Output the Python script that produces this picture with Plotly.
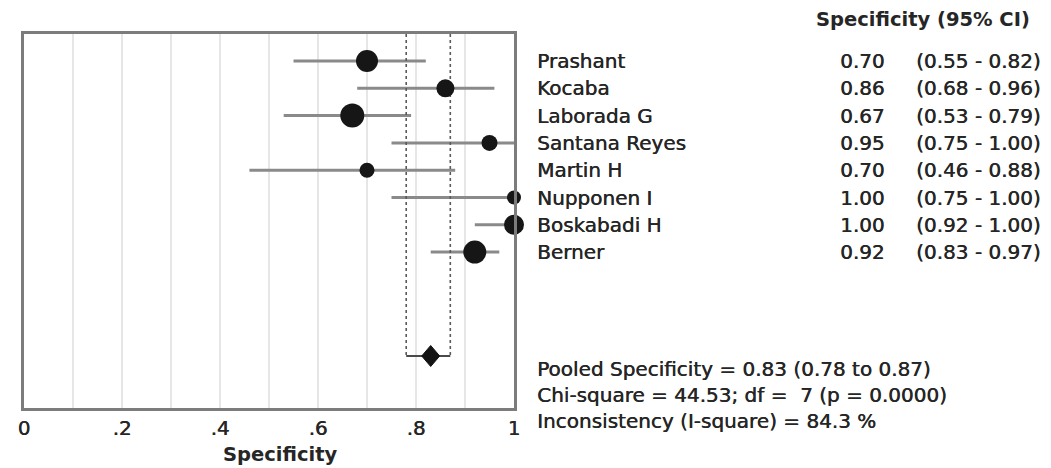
import plotly.graph_objects as go

# ---- data -------------------------------------------------------------
studies = ["Prashant", "Kocaba", "Laborada G", "Santana Reyes",
           "Martin H", "Nupponen I", "Boskabadi H", "Berner"]
specificity = [0.70, 0.86, 0.67, 0.95, 0.70, 1.00, 1.00, 0.92]
ci_low = [0.55, 0.68, 0.53, 0.75, 0.46, 0.75, 0.92, 0.83]
ci_high = [0.82, 0.96, 0.79, 1.00, 0.88, 1.00, 1.00, 0.97]

pooled = 0.83
pooled_low = 0.78
pooled_high = 0.87
chi_square = 44.53
dof = 7
p_value = 0.0000
i_square = 84.3

tick_values = [0, 0.2, 0.4, 0.6, 0.8, 1.0]
tick_labels = ["0", ".2", ".4", ".6", ".8", "1"]

# ---- styling ------------------------------------------------------------
marker_px = [22, 18, 24, 16, 15, 14, 20, 23]   # study weight markers (diameter)
FONT = "DejaVu Sans"
TXT = "#262626"
SHADOW = "0.45px 0 0 #262626"           # slightly heavier strokes
W, H = 1051, 468
L, R, T, B = 24, 514, 34, 408          # plot area in pixels
ROW_PX = 27.3                           # vertical spacing of study rows
FIRST_ROW_PX = 61


def row_of(py):
    return 1 + (py - FIRST_ROW_PX) / ROW_PX


def px_x(px):
    return (px - L) / (R - L)


def px_y(py):
    return (B - py) / (B - T)


rows = list(range(1, len(studies) + 1))
pooled_row = row_of(356)
y_top, y_bottom = row_of(T), row_of(B)

fig = go.Figure()

# confidence interval lines for each study
cx, cy = [], []
for lo, hi, r in zip(ci_low, ci_high, rows):
    cx += [lo, hi, None]
    cy += [r, r, None]
fig.add_trace(go.Scatter(x=cx, y=cy, mode="lines",
                         line=dict(color="#8a8a8a", width=3),
                         cliponaxis=False, hoverinfo="skip"))

# dotted verticals marking the pooled confidence interval
for v in (pooled_low, pooled_high):
    fig.add_trace(go.Scatter(x=[v, v], y=[y_top, pooled_row], mode="lines",
                             line=dict(color="#5a5a5a", width=1.6, dash="dot"),
                             hoverinfo="skip"))

# pooled estimate: interval bar and diamond
fig.add_trace(go.Scatter(x=[pooled_low, pooled_high], y=[pooled_row, pooled_row],
                         mode="lines", line=dict(color="#4a4a4a", width=2),
                         hoverinfo="skip"))
dx = 9 / (R - L)
dy = 10.5 / ROW_PX
fig.add_trace(go.Scatter(x=[pooled - dx, pooled, pooled + dx, pooled, pooled - dx],
                         y=[pooled_row, pooled_row - dy, pooled_row, pooled_row + dy, pooled_row],
                         mode="lines", fill="toself", fillcolor="#141414",
                         line=dict(color="#141414", width=1), hoverinfo="skip"))

# study point estimates
fig.add_trace(go.Scatter(x=specificity, y=rows, mode="markers",
                         marker=dict(size=marker_px, color="#161616", opacity=1,
                                     line=dict(width=0)),
                         cliponaxis=False, hoverinfo="skip"))

# ---- right-hand text table ---------------------------------------------------
ann = []
font_row = dict(family=FONT, size=20, color=TXT, shadow=SHADOW)
for name, v, lo, hi, r in zip(studies, specificity, ci_low, ci_high, rows):
    ann.append(dict(x=px_x(535), xref="paper", y=r, yref="y", text=name,
                    xanchor="left", yanchor="middle", showarrow=False, font=font_row))
    ann.append(dict(x=px_x(887), xref="paper", y=r, yref="y", text=f"{v:.2f}",
                    xanchor="right", yanchor="middle", showarrow=False, font=font_row))
    ann.append(dict(x=px_x(914), xref="paper", y=r, yref="y",
                    text=f"({lo:.2f} - {hi:.2f})",
                    xanchor="left", yanchor="middle", showarrow=False, font=font_row))

ann.append(dict(x=px_x(923), xref="paper", y=px_y(19), yref="paper",
                text="<b>Specificity (95% CI)</b>", xanchor="center", yanchor="middle",
                showarrow=False, font=dict(family=FONT, size=19.5, color=TXT)))

summary = [
    f"Pooled Specificity = {pooled:.2f} ({pooled_low:.2f} to {pooled_high:.2f})",
    f"Chi-square = {chi_square:.2f}; df =\u00a0 {dof} (p = {p_value:.4f})",
    f"Inconsistency (I-square) = {i_square:.1f} %",
]
for text, py in zip(summary, (369, 395, 421)):
    ann.append(dict(x=px_x(535), xref="paper", y=px_y(py), yref="paper", text=text,
                    xanchor="left", yanchor="middle", showarrow=False, font=font_row))

ann.append(dict(x=px_x(280), xref="paper", y=px_y(454), yref="paper",
                text="<b>Specificity</b>", xanchor="center", yanchor="middle",
                showarrow=False, font=dict(family=FONT, size=19.5, color=TXT)))

# ---- layout --------------------------------------------------------------------
grid_vals = [i / 10 for i in range(11)]
grid_text = [tick_labels[tick_values.index(g)] if g in tick_values else ""
             for g in [round(v, 1) for v in grid_vals]]

fig.update_layout(
    width=W, height=H,
    margin=dict(l=L, r=W - R, t=T, b=H - B, pad=0),
    paper_bgcolor="white", plot_bgcolor="white",
    showlegend=False,
    annotations=ann,
    xaxis=dict(range=[0, 1], tickvals=grid_vals, ticktext=grid_text,
               showgrid=True, gridcolor="#e6e6e6", gridwidth=1.5,
               zeroline=False, showline=True, mirror=True,
               linecolor="#7c7c7c", linewidth=2.5, ticks="",
               tickfont=dict(family=FONT, size=20, color=TXT, shadow=SHADOW)),
    yaxis=dict(range=[y_bottom, y_top], showgrid=False, zeroline=False,
               showticklabels=False, showline=True, mirror=True,
               linecolor="#7c7c7c", linewidth=2.5, ticks=""),
)

fig.write_html("out.html")
